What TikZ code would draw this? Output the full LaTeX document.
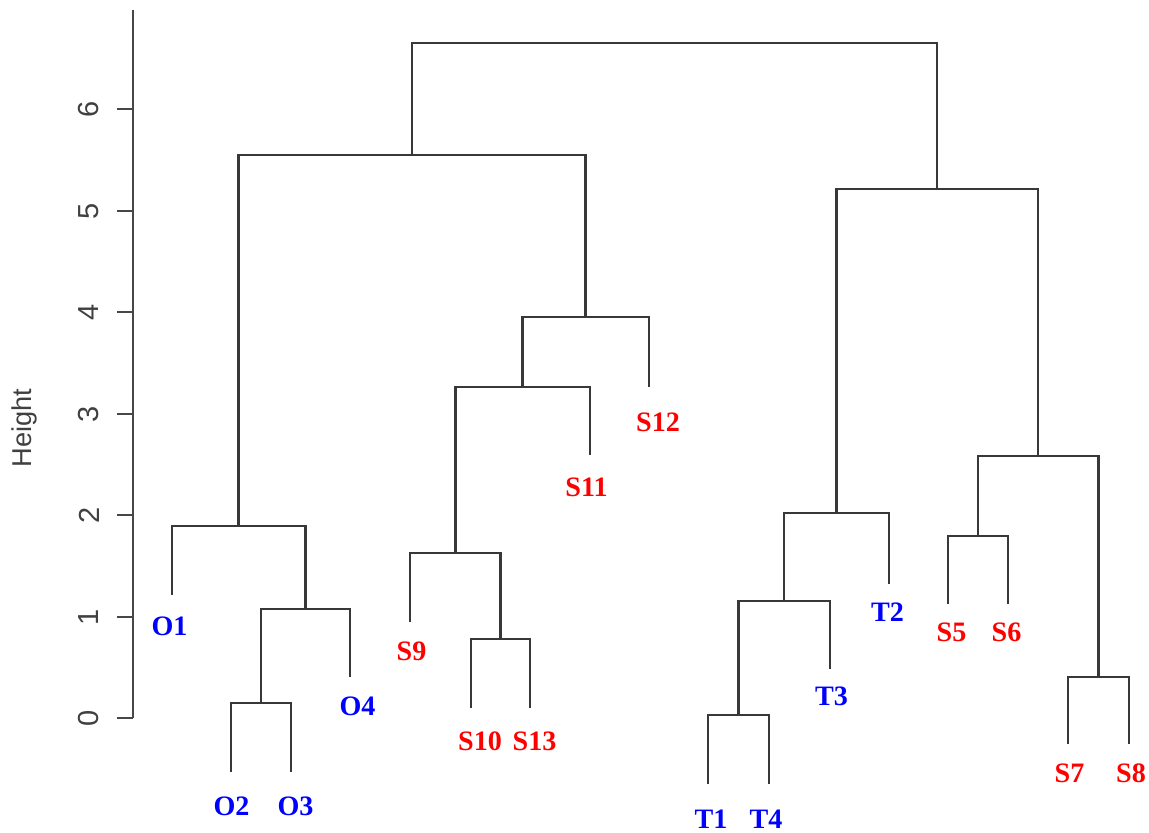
\documentclass[tikz,border=0pt]{standalone}
\usepackage{fontspec}
\setmainfont{Liberation Serif}
\setsansfont{Liberation Sans}
\tikzset{
  branch/.style={draw=black!78, line width=1.2pt, line cap=rect},
  axisline/.style={draw=black!72, line width=1.2pt},
  ticklab/.style={font=\sffamily\fontsize{16.5}{18}\selectfont, text=black!75, rotate=90, inner sep=0pt},
  leafO/.style={font=\bfseries\fontsize{16}{18}\selectfont, text=blue, anchor=base, inner sep=0pt, text depth=0pt},
  leafS/.style={font=\bfseries\fontsize{16}{18}\selectfont, text=red, anchor=base, inner sep=0pt, text depth=0pt},
}
\begin{document}
\begin{tikzpicture}[x=0.02cm, y=-0.02cm]
\useasboundingbox (0,0) rectangle (1149,832);

% ---------- axis ----------
\coordinate (ax0) at (133,718);
\coordinate (axtop) at (133,10);
\draw[axisline] (axtop) -- (ax0);
\foreach \v/\yy in {0/718,1/617,2/515,3/414,4/312,5/211,6/109}{
  \coordinate (tk\v) at (133,\yy);
  \coordinate (tl\v) at (117,\yy);
  \draw[axisline] (tk\v) -- (tl\v);
  \node[ticklab] (tn\v) at (89,\yy) {\v};
}
\node[ticklab, font=\sffamily\fontsize{15.5}{17}\selectfont] (ylab) at (24,428) {Height};

% ---------- leaves (bottom ends of the branches) ----------
\coordinate (O1) at (172,594);
\coordinate (O2) at (231,771);
\coordinate (O3) at (291,771);
\coordinate (O4) at (350,676);
\coordinate (S9) at (410,621);
\coordinate (S10) at (471,707);
\coordinate (S13) at (530,707);
\coordinate (S11) at (590,454);
\coordinate (S12) at (649,386);
\coordinate (T1) at (708,783);
\coordinate (T4) at (769,783);
\coordinate (T3) at (830,668);
\coordinate (T2) at (889,583);
\coordinate (S5) at (948,603);
\coordinate (S6) at (1008,603);
\coordinate (S7) at (1068,743);
\coordinate (S8) at (1129,743);

% ---------- merge points ----------
\coordinate (m1) at (261,703);
\coordinate (m2) at (305.5,609);
\coordinate (m3) at (238.5,526);
\coordinate (m4) at (500.5,639);
\coordinate (m5) at (455.5,553);
\coordinate (m6) at (522.5,387);
\coordinate (m7) at (585.5,317);
\coordinate (m8) at (412,155);
\coordinate (m9) at (738.5,715);
\coordinate (m10) at (784,601);
\coordinate (m11) at (836.5,513);
\coordinate (m12) at (978,536);
\coordinate (m13) at (1098.5,677);
\coordinate (m14) at (1038,456);
\coordinate (m15) at (937,189);
\coordinate (m16) at (674.5,43);

% ---------- branches ----------
\draw[branch] (O2) |- (m1) -| (O3);
\draw[branch] (m1) |- (m2) -| (O4);
\draw[branch] (O1) |- (m3) -| (m2);
\draw[branch] (S10) |- (m4) -| (S13);
\draw[branch] (S9) |- (m5) -| (m4);
\draw[branch] (m5) |- (m6) -| (S11);
\draw[branch] (m6) |- (m7) -| (S12);
\draw[branch] (m3) |- (m8) -| (m7);
\draw[branch] (T1) |- (m9) -| (T4);
\draw[branch] (m9) |- (m10) -| (T3);
\draw[branch] (m10) |- (m11) -| (T2);
\draw[branch] (S5) |- (m12) -| (S6);
\draw[branch] (S7) |- (m13) -| (S8);
\draw[branch] (m12) |- (m14) -| (m13);
\draw[branch] (m11) |- (m15) -| (m14);
\draw[branch] (m8) |- (m16) -| (m15);

% ---------- leaf labels ----------
\node[leafO] (lO1) at (169.5,635) {O1};
\node[leafO] (lO2) at (231.5,815) {O2};
\node[leafO] (lO3) at (295.5,815) {O3};
\node[leafO] (lO4) at (357.5,715) {O4};
\node[leafS] (lS9) at (411.5,660) {S9};
\node[leafS] (lS10) at (480,750) {S10};
\node[leafS] (lS13) at (534.5,750) {S13};
\node[leafS] (lS11) at (586.5,496) {S11};
\node[leafS] (lS12) at (658,431.5) {S12};
\node[leafO] (lT1) at (711,828) {T1};
\node[leafO] (lT4) at (766,828) {T4};
\node[leafO] (lT3) at (831.5,705) {T3};
\node[leafO] (lT2) at (887.5,621.5) {T2};
\node[leafS] (lS5) at (951.5,641.5) {S5};
\node[leafS] (lS6) at (1006.5,641.5) {S6};
\node[leafS] (lS7) at (1069.5,782.5) {S7};
\node[leafS] (lS8) at (1131,782.5) {S8};
\end{tikzpicture}
\end{document}
